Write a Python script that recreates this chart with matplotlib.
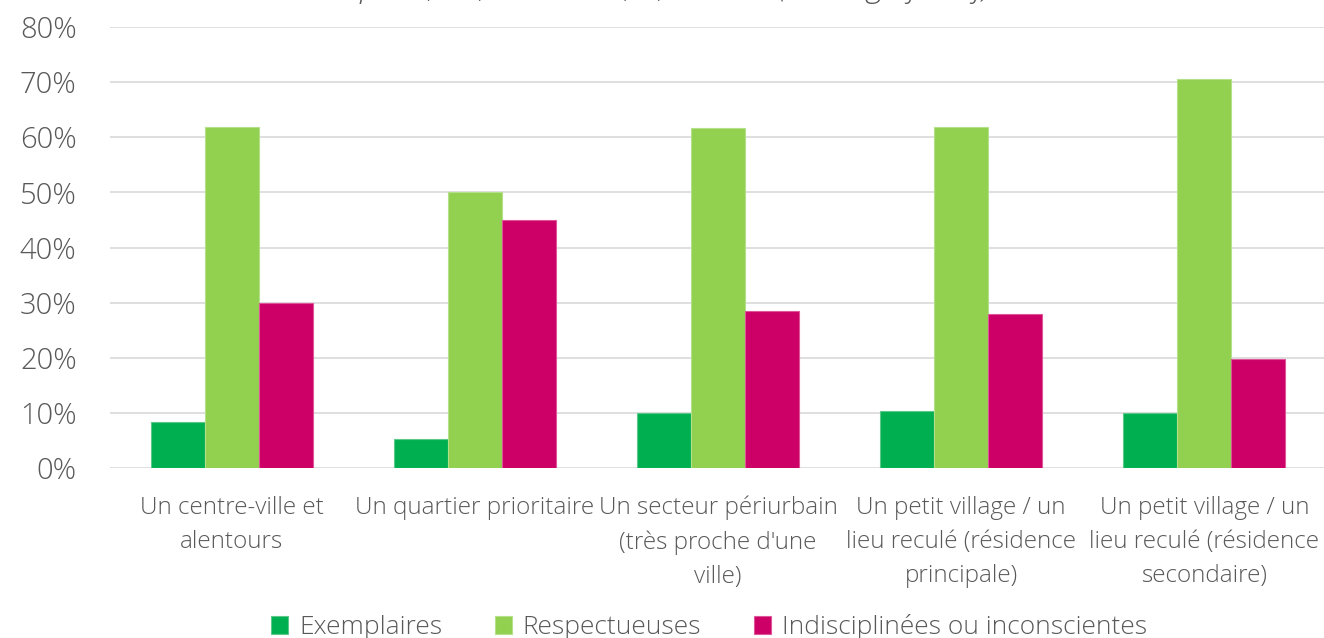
import matplotlib
matplotlib.use("Agg")
import matplotlib.pyplot as plt
import numpy as np

categories = [
    "Un centre-ville et\nalentours",
    "Un quartier prioritaire",
    "Un secteur périurbain\n(très proche d'une\nville)",
    "Un petit village / un\nlieu reculé (résidence\nprincipale)",
    "Un petit village / un\nlieu reculé (résidence\nsecondaire)",
]
series_names = ["Exemplaires", "Respectueuses", "Indisciplinées ou inconscientes"]
exemplaires = [8.3, 5.3, 10.0, 10.3, 10.0]
respectueuses = [61.9, 50.1, 61.7, 61.9, 70.6]
indisciplinees = [29.9, 45.0, 28.5, 27.9, 19.8]
yticks = [0, 10, 20, 30, 40, 50, 60, 70, 80]
title = "p = 0,01 ; Khi2 = 19,6 ; ddl = 8 (Très significatif)"

colors = ["#00B050", "#92D050", "#CC0066"]
edge = ["#5CC98A", "#B5E08A", "#E0559A"]
txt = "#595959"

plt.rcParams['font.family'] = ['Open Sans', 'DejaVu Sans']

fig = plt.figure(figsize=(13.24, 6.38), dpi=100)
ax = fig.add_axes([110/1324, 1 - 468/638, (1326-110)/1324, (468-27)/638])

x = np.arange(len(categories))
w = 0.222
for i, (vals, c, ec) in enumerate(zip([exemplaires, respectueuses, indisciplinees], colors, edge)):
    ax.bar(x + (i - 1) * w, vals, width=w, color=c, edgecolor=ec, linewidth=0.8,
           label=series_names[i], zorder=3)

ax.set_ylim(0, 80)
ax.set_xlim(-0.5, len(categories) - 0.5)
ax.set_yticks(yticks)
ax.set_yticklabels([f"{v}%" for v in yticks], fontsize=21, color=txt)
ax.yaxis.grid(True, color="#D9D9D9", linewidth=1.2, zorder=0)
ax.set_axisbelow(True)
for s in ax.spines.values():
    s.set_visible(False)
ax.tick_params(axis='y', length=0, pad=24)
ax.tick_params(axis='x', length=0, pad=20)
ax.set_xticks(x)
ax.set_xticklabels(categories, fontsize=17.5, color=txt, linespacing=1.55)
for lbl in ax.get_yticklabels():
    lbl.set_fontweight('light')
for lbl in ax.get_xticklabels():
    lbl.set_fontweight('light')

fig.text(675/1324, 1 + 0.019, title, ha='center', va='center', fontsize=23,
         style='italic', color=txt, fontweight='light')

leg = fig.legend(loc='center', bbox_to_anchor=(709/1324, 1 - 627/638), ncol=3, frameon=False,
                 fontsize=19, handlelength=0.65, handleheight=0.65, columnspacing=2.0,
                 handletextpad=0.4)
for t in leg.get_texts():
    t.set_color(txt)
    t.set_fontweight('light')

fig.savefig("out.png", dpi=100)
